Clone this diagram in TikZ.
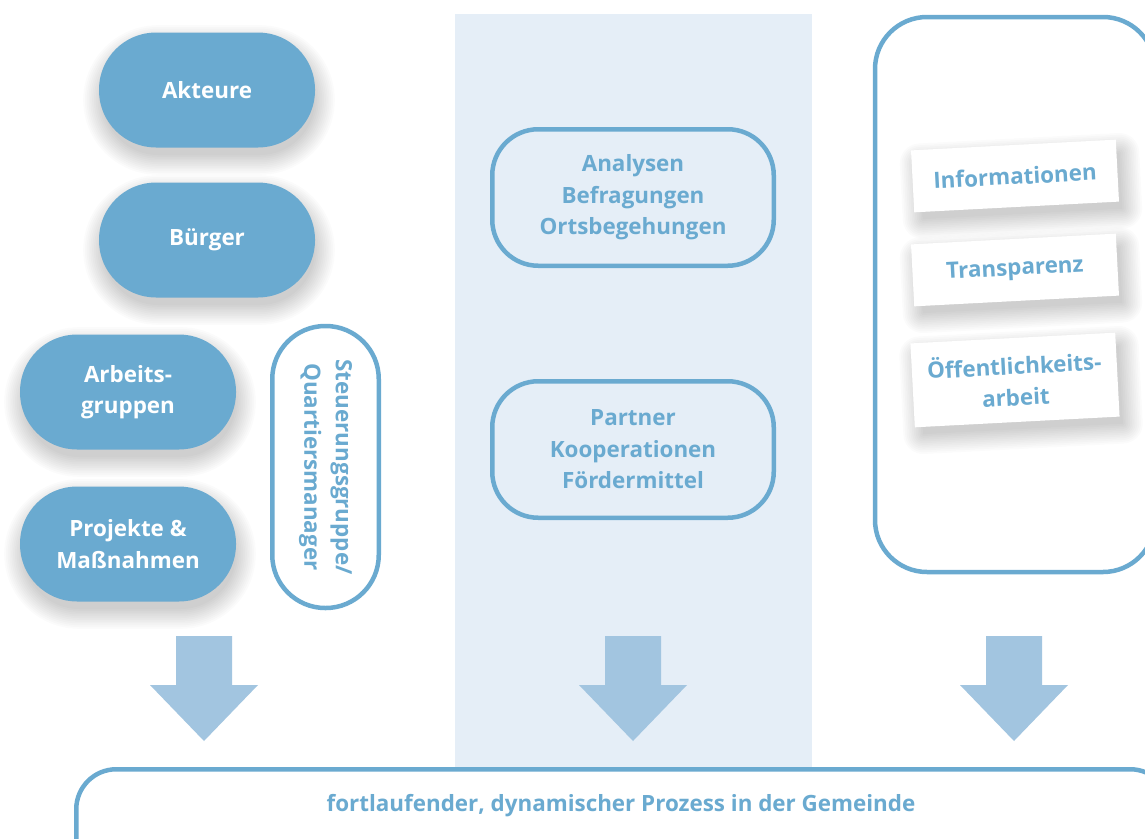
\documentclass[tikz,border=0pt]{standalone}
\usepackage{fontspec}
\setmainfont{Open Sans}
\definecolor{pill}{HTML}{6AAAD0}
\definecolor{arr}{HTML}{A2C5E0}
\definecolor{col}{HTML}{E5EEF7}
\newcommand\dgfont{\fontsize{22.4}{31.5}\selectfont\bfseries}
% soft shadow: centre x, centre y, width, height, corner radius, rotation
\newcommand\softshadow[6]{%
  \begin{scope}[shift={(#1,#2)}, rotate=#6]
    \foreach \i in {0,...,11}{%
      \pgfmathsetmacro\dd{\i*1.8}%
      \pgfmathsetmacro\rr{#5+\i*1.8}%
      \fill[black, fill opacity=0.014, rounded corners=\rr pt]
        ({-#3/2-\dd},{-#4/2-\dd}) rectangle ({#3/2+\dd},{#4/2+\dd});
    }
  \end{scope}}
\begin{document}
\begin{tikzpicture}[x=1pt,y=-1pt,
  filledpill/.style={fill=pill, text=white, minimum width=216pt, minimum height=115pt,
    rounded corners=57pt, inner sep=0pt, align=center, font=\dgfont},
  outlinebox/.style={draw=pill, line width=4.5pt, text=pill, inner sep=0pt, align=center, font=\dgfont},
  card/.style={fill=white, text=pill, rotate=3, inner sep=0pt, align=center, font=\dgfont, minimum width=205pt},
  downarrow/.pic={\fill[arr] (-28,0) -- (28,0) -- (28,49) -- (54,49) -- (0,105) -- (-54,49) -- (-28,49) -- cycle;}
]
\useasboundingbox (0,0) rectangle (1145,838);
\clip (0,0) rectangle (1145,838);
\fill[white] (0,0) rectangle (1145,838);
% middle column
\fill[col] (455,14) rectangle (812,790);

% shadows of the left pills
\softshadow{209}{100}{212}{110}{55}{0}
\softshadow{209}{250}{212}{110}{55}{0}
\softshadow{130}{402}{212}{110}{55}{0}
\softshadow{130}{554}{212}{110}{55}{0}

% left pills
\node[filledpill] (akteure) at (207,90) {Akteure};
\node[filledpill] (buerger) at (207,240) {Bürger};
\node[filledpill] (arbeit) at (128,392) {Arbeits-\\gruppen};
\node[filledpill] (projekte) at (128,544) {Projekte \&\\Maßnahmen};
\node[outlinebox, fill=white, rotate=-90, minimum width=282pt, minimum height=106.5pt, rounded corners=53pt] (steuer) at (325.5,467) {Steuerungsgruppe/\\Quartiersmanager};

% middle boxes
\node[outlinebox, minimum width=281.5pt, minimum height=136.5pt, rounded corners=46pt] (analysen) at (633,197.5) {Analysen\\Befragungen\\Ortsbegehungen};
\node[outlinebox, minimum width=281.5pt, minimum height=136.5pt, rounded corners=46pt] (partner) at (633,449.5) {Partner\\Kooperationen\\Fördermittel};

% right frame
\node[draw=pill, line width=4.5pt, minimum width=280pt, minimum height=555pt, rounded corners=52pt, inner sep=0pt] (frame) at (1015,294.5) {};
\softshadow{1021}{186}{200}{56}{0}{3}
\softshadow{1021}{280}{200}{56}{0}{3}
\softshadow{1021}{390}{200}{78}{0}{3}
\node[card, minimum height=62pt] (info) at (1015,176) {Informationen};
\node[card, minimum height=62pt] (transp) at (1015,270) {Transparenz};
\node[card, minimum height=84pt] (oeff) at (1015,380) {Öffentlichkeits-\\arbeit};

% block arrows
\pic at (204,636) {downarrow};
\pic at (633,636) {downarrow};
\pic at (1014,636) {downarrow};

% bottom process box
\node[outlinebox, fill=white, minimum width=1094pt, minimum height=130pt, rounded corners=40pt, anchor=north west] (prozess) at (74,767) {};
\node[text=pill, font=\dgfont, inner sep=0pt] (prozesstext) at (621,806) {fortlaufender, dynamischer Prozess in der Gemeinde};
\end{tikzpicture}
\end{document}
